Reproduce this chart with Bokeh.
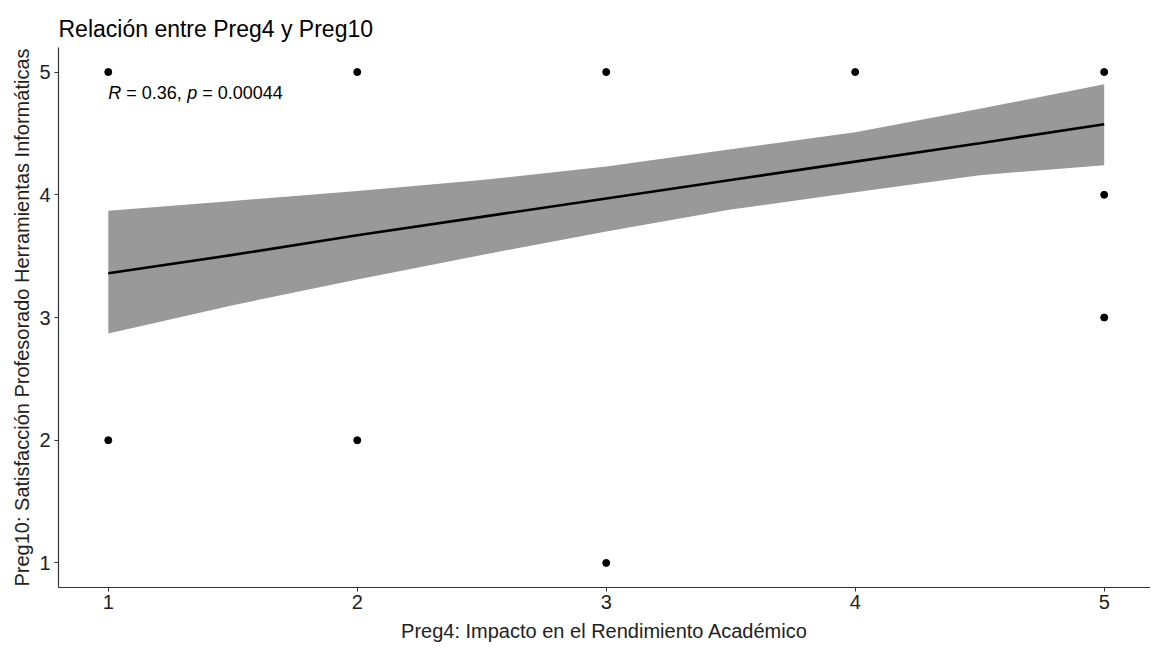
from bokeh.plotting import figure
from bokeh.models import Range1d, FixedTicker
from bokeh.core.properties import value
from bokeh.embed import file_html
from bokeh.resources import INLINE

# Data
pts_x = [1, 1, 2, 2, 3, 3, 4, 5, 5, 5]
pts_y = [5, 2, 5, 2, 5, 1, 5, 5, 4, 3]

band_x = [1, 1.5, 2, 2.5, 3, 3.5, 4, 4.5, 5]
band_upper = [3.87, 3.95, 4.03, 4.12, 4.23, 4.37, 4.51, 4.70, 4.90]
band_lower = [2.87, 3.10, 3.31, 3.51, 3.70, 3.88, 4.02, 4.16, 4.24]
fit_y = [3.36, 3.51, 3.67, 3.82, 3.97, 4.12, 4.27, 4.42, 4.575]

ticks = [1, 2, 3, 4, 5]
title_text = "Relación entre Preg4 y Preg10"
x_label = "Preg4: Impacto en el Rendimiento Académico"
y_label = "Preg10: Satisfacción Profesorado Herramientas Informáticas"
ann_parts = ["R", "= 0.36,", "p", "= 0.00044"]
ann_styles = ["italic", "normal", "italic", "normal"]
ann_offsets = [0, 18, 79, 94]
ann_pos = (1, 4.83)

FONT = "Liberation Sans"

p = figure(width=1150, height=644, output_backend="svg", toolbar_location=None,
           x_range=Range1d(0.8, 5.186), y_range=Range1d(0.8, 5.2),
           min_border_left=58, min_border_right=0, min_border_top=47,
           min_border_bottom=0, title=title_text)

p.title.text_font = FONT
p.title.text_font_size = "23px"
p.title.text_font_style = "normal"
p.title.text_color = "black"
p.title.align = "left"
p.title.standoff = 11

p.grid.visible = False
p.outline_line_color = None

for ax in (p.xaxis, p.yaxis):
    ax.ticker = FixedTicker(ticks=ticks)
    ax.minor_tick_line_color = None
    ax.major_tick_in = 0
    ax.major_tick_out = 4
    ax.major_tick_line_color = "#333333"
    ax.axis_line_color = "#333333"
    ax.axis_line_width = 1.2
    ax.major_label_text_font = FONT
    ax.major_label_text_font_size = "20px"
    ax.major_label_text_color = "#222222"
    ax.axis_label_text_font = FONT
    ax.axis_label_text_font_size = "20px"
    ax.axis_label_text_font_style = "normal"
    ax.axis_label_text_color = "#222222"
    ax.major_label_standoff = 4

p.xaxis.axis_label = x_label
p.yaxis.axis_label = y_label
p.xaxis.major_label_standoff = 3
p.xaxis.axis_label_standoff = 8
p.yaxis.axis_label_standoff = 3

p.varea(x=band_x, y1=band_lower, y2=band_upper, fill_color="#999999", fill_alpha=1.0)
p.line(x=band_x, y=fit_y, line_color="black", line_width=2.6)
p.scatter(x=pts_x, y=pts_y, size=7, color="black")

for txt, st, off in zip(ann_parts, ann_styles, ann_offsets):
    p.text(x=[ann_pos[0]], y=[ann_pos[1]], text=[txt], x_offset=off,
           text_font=value(FONT), text_font_size="18px", text_font_style=st,
           text_color="black", text_baseline="middle", text_align="left")

open("out.html", "w").write(file_html(p, INLINE))
